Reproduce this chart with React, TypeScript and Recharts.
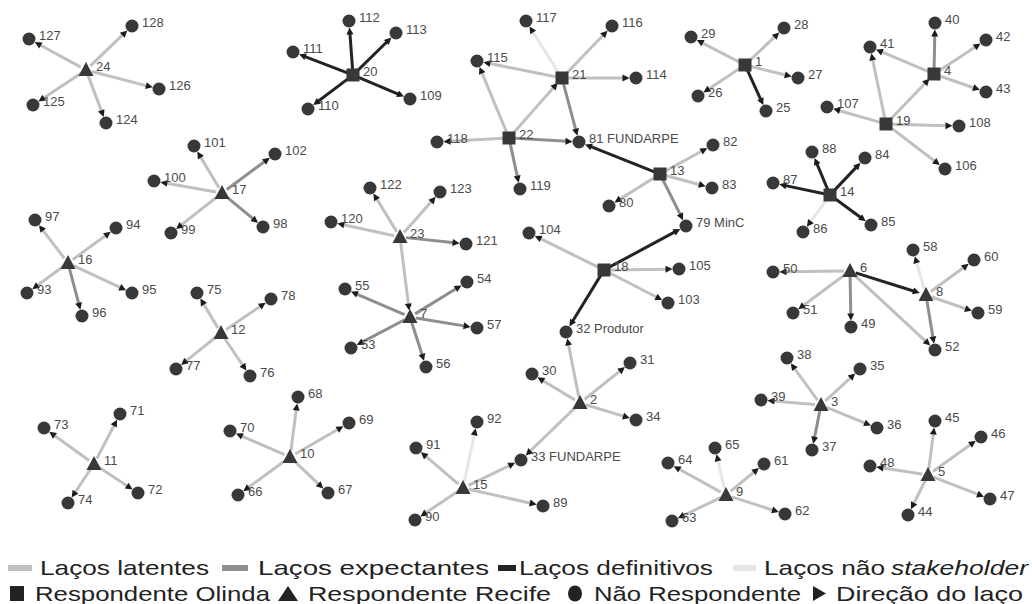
import { ScatterChart, Scatter, XAxis, YAxis, ReferenceLine } from 'recharts'

type Node = { id: number; x: number; y: number; name?: string }

// Respondente Olinda (squares)
const olindaNodes: Node[] = [
  { id: 20, x: 353, y: 75 }, { id: 21, x: 562, y: 78 }, { id: 22, x: 509, y: 138 },
  { id: 13, x: 660, y: 174 }, { id: 18, x: 604, y: 270 }, { id: 1, x: 745, y: 65 },
  { id: 4, x: 934, y: 74 }, { id: 19, x: 886, y: 124 }, { id: 14, x: 830, y: 195 },
]

// Respondente Recife (triangles)
const recifeNodes: Node[] = [
  { id: 24, x: 86, y: 70 }, { id: 17, x: 222, y: 193 }, { id: 16, x: 68, y: 263 },
  { id: 23, x: 400, y: 237 }, { id: 7, x: 410, y: 317 }, { id: 12, x: 221, y: 333 },
  { id: 11, x: 94, y: 464 }, { id: 10, x: 290, y: 457 }, { id: 2, x: 580, y: 403 },
  { id: 15, x: 463, y: 488 }, { id: 6, x: 850, y: 271 }, { id: 8, x: 926, y: 295 },
  { id: 3, x: 821, y: 405 }, { id: 9, x: 726, y: 495 }, { id: 5, x: 928, y: 475 },
]

// Não respondentes (circles)
const otherNodes: Node[] = [
  { id: 128, x: 132, y: 26 }, { id: 127, x: 29, y: 39 }, { id: 126, x: 159, y: 89 },
  { id: 125, x: 33, y: 105 }, { id: 124, x: 106, y: 123 },
  { id: 112, x: 349, y: 21 }, { id: 113, x: 396, y: 33 }, { id: 111, x: 293, y: 52 },
  { id: 110, x: 308, y: 109 }, { id: 109, x: 410, y: 99 },
  { id: 117, x: 526, y: 21 }, { id: 116, x: 612, y: 26 }, { id: 115, x: 477, y: 61 },
  { id: 114, x: 636, y: 78 }, { id: 118, x: 437, y: 142 }, { id: 119, x: 520, y: 189 },
  { id: 81, x: 579, y: 142, name: '81 FUNDARPE' },
  { id: 82, x: 713, y: 145 }, { id: 83, x: 712, y: 188 }, { id: 80, x: 609, y: 206 },
  { id: 79, x: 686, y: 226, name: '79 MinC' },
  { id: 104, x: 529, y: 233 }, { id: 105, x: 679, y: 269 }, { id: 103, x: 668, y: 303 },
  { id: 32, x: 566, y: 332, name: '32 Produtor' },
  { id: 30, x: 532, y: 374 }, { id: 31, x: 630, y: 363 }, { id: 34, x: 636, y: 420 },
  { id: 33, x: 521, y: 460, name: '33 FUNDARPE' },
  { id: 92, x: 477, y: 422 }, { id: 91, x: 416, y: 448 }, { id: 90, x: 415, y: 520 }, { id: 89, x: 543, y: 506 },
  { id: 28, x: 784, y: 28 }, { id: 29, x: 691, y: 37 }, { id: 27, x: 798, y: 78 },
  { id: 26, x: 698, y: 96 }, { id: 25, x: 766, y: 111 },
  { id: 40, x: 935, y: 23 }, { id: 41, x: 870, y: 47 }, { id: 42, x: 986, y: 40 }, { id: 43, x: 986, y: 92 },
  { id: 107, x: 827, y: 107 }, { id: 108, x: 959, y: 126 }, { id: 106, x: 945, y: 169 },
  { id: 88, x: 812, y: 152 }, { id: 84, x: 865, y: 158 }, { id: 87, x: 773, y: 183 },
  { id: 86, x: 803, y: 232 }, { id: 85, x: 871, y: 225 },
  { id: 50, x: 773, y: 272 }, { id: 51, x: 793, y: 313 }, { id: 49, x: 851, y: 327 },
  { id: 52, x: 935, y: 350 }, { id: 58, x: 913, y: 250 }, { id: 60, x: 974, y: 260 }, { id: 59, x: 978, y: 313 },
  { id: 101, x: 194, y: 146 }, { id: 102, x: 275, y: 154 }, { id: 100, x: 154, y: 181 },
  { id: 99, x: 171, y: 233 }, { id: 98, x: 263, y: 227 },
  { id: 97, x: 35, y: 220 }, { id: 94, x: 116, y: 228 }, { id: 93, x: 27, y: 293 },
  { id: 95, x: 132, y: 293 }, { id: 96, x: 82, y: 316 },
  { id: 122, x: 370, y: 188 }, { id: 123, x: 440, y: 192 }, { id: 120, x: 331, y: 222 }, { id: 121, x: 466, y: 244 },
  { id: 55, x: 345, y: 289 }, { id: 54, x: 467, y: 282 }, { id: 57, x: 477, y: 328 },
  { id: 53, x: 351, y: 348 }, { id: 56, x: 426, y: 367 },
  { id: 75, x: 197, y: 293 }, { id: 78, x: 271, y: 299 }, { id: 77, x: 176, y: 369 }, { id: 76, x: 250, y: 376 },
  { id: 73, x: 44, y: 428 }, { id: 71, x: 120, y: 414 }, { id: 74, x: 68, y: 503 }, { id: 72, x: 138, y: 493 },
  { id: 68, x: 298, y: 397 }, { id: 70, x: 230, y: 431 }, { id: 69, x: 349, y: 423 },
  { id: 66, x: 238, y: 495 }, { id: 67, x: 328, y: 493 },
  { id: 38, x: 787, y: 358 }, { id: 35, x: 860, y: 369 }, { id: 39, x: 761, y: 400 },
  { id: 36, x: 877, y: 428 }, { id: 37, x: 812, y: 450 },
  { id: 64, x: 668, y: 463 }, { id: 65, x: 715, y: 448 }, { id: 61, x: 764, y: 464 },
  { id: 63, x: 672, y: 521 }, { id: 62, x: 785, y: 514 },
  { id: 45, x: 935, y: 421 }, { id: 46, x: 981, y: 437 }, { id: 48, x: 870, y: 466 },
  { id: 47, x: 990, y: 499 }, { id: 44, x: 908, y: 515 },
]

// ties: [from, to]
const latentTies: [number, number][] = [
  [24, 128], [24, 127], [24, 126], [24, 125], [24, 124],
  [21, 116], [21, 115], [21, 114], [22, 115], [22, 21], [22, 118],
  [13, 82], [13, 83], [13, 80], [18, 104], [18, 105], [18, 103],
  [2, 32], [2, 30], [2, 31], [2, 34], [2, 33], [15, 33], [15, 91], [15, 90], [15, 89],
  [1, 28], [1, 29], [1, 27], [1, 26], [4, 41], [4, 42], [4, 43],
  [19, 41], [19, 4], [19, 107], [19, 108], [19, 106],
  [6, 50], [6, 51], [6, 52], [8, 60], [8, 59],
  [17, 101], [17, 100], [17, 99], [16, 97], [16, 94], [16, 93], [16, 95],
  [23, 122], [23, 123], [23, 120], [23, 7],
  [12, 75], [12, 78], [12, 77], [12, 76], [11, 73], [11, 71], [11, 74], [11, 72],
  [10, 68], [10, 70], [10, 69], [10, 66], [10, 67],
  [3, 38], [3, 35], [3, 39], [3, 36], [9, 64], [9, 61], [9, 63], [9, 62],
  [5, 45], [5, 46], [5, 48], [5, 47], [5, 44],
]
const expectantTies: [number, number][] = [
  [21, 81], [22, 81], [22, 119], [13, 79], [4, 40], [6, 49], [8, 52],
  [17, 102], [17, 98], [16, 96], [23, 121],
  [7, 55], [7, 54], [7, 57], [7, 53], [7, 56], [3, 37],
]
const definitiveTies: [number, number][] = [
  [20, 112], [20, 113], [20, 111], [20, 110], [20, 109],
  [13, 81], [18, 79], [18, 32], [1, 25],
  [14, 88], [14, 84], [14, 87], [14, 85], [6, 8],
]
const nonStakeholderTies: [number, number][] = [
  [21, 117], [15, 92], [14, 86], [8, 58], [9, 65],
]

const COLORS = {
  latent: '#c0c0c0',
  expectant: '#8e8e8e',
  definitive: '#232323',
  nonStakeholder: '#e6e6e6',
  node: '#383838',
  label: '#4a4a4a',
}

const allNodes = [...olindaNodes, ...recifeNodes, ...otherNodes]
const nodeById = new Map(allNodes.map((n) => [n.id, n]))

const withLabel = (list: Node[]) => list.map((n) => ({ ...n, label: n.name ?? String(n.id) }))

const tieShape = (color: string) => (props: any) => {
  const { x1, y1, x2, y2 } = props
  const dx = x2 - x1
  const dy = y2 - y1
  const len = Math.hypot(dx, dy) || 1
  const ux = dx / len
  const uy = dy / len
  const tipX = x2 - ux * 6.5
  const tipY = y2 - uy * 6.5
  const baseX = tipX - ux * 7
  const baseY = tipY - uy * 7
  const px = -uy
  const py = ux
  return (
    <g>
      <line x1={x1 + ux * 6} y1={y1 + uy * 6} x2={baseX + ux * 2} y2={baseY + uy * 2} stroke={color} strokeWidth={3} />
      <polygon
        points={`${tipX},${tipY} ${baseX + px * 3.5},${baseY + py * 3.5} ${baseX - px * 3.5},${baseY - py * 3.5}`}
        fill="#1c1c1c"
      />
    </g>
  )
}

const SquareNode = (props: any) => {
  const { cx, cy } = props
  return <rect x={cx - 6.5} y={cy - 6.5} width={13} height={13} fill={COLORS.node} />
}

const TriangleNode = (props: any) => {
  const { cx, cy } = props
  return <polygon points={`${cx},${cy - 8} ${cx + 7.5},${cy + 6} ${cx - 7.5},${cy + 6}`} fill={COLORS.node} />
}

const CircleNode = (props: any) => {
  const { cx, cy } = props
  return <circle cx={cx} cy={cy} r={6.5} fill={COLORS.node} />
}

const LabelOnly = (props: any) => {
  const { cx, cy, payload } = props
  return (
    <text x={cx + 10} y={cy - 2} dominantBaseline="middle" fontSize={13} fill={COLORS.label}
      fontFamily="'Liberation Sans', Arial, sans-serif">
      {payload.label}
    </text>
  )
}

const renderTies = (ties: [number, number][], color: string, key: string) =>
  ties.map(([from, to]) => {
    const a = nodeById.get(from)!
    const b = nodeById.get(to)!
    return (
      <ReferenceLine
        key={`${key}-${from}-${to}`}
        segment={[{ x: a.x, y: a.y }, { x: b.x, y: b.y }]}
        ifOverflow="visible"
        zIndex={100}
        shape={tieShape(color)}
      />
    )
  })

const LEGEND_FONT = "'Liberation Sans', Arial, sans-serif"

function NetworkLegend() {
  const t = (x: number, y: number, len: number, s: string, italic = false) => (
    <text x={x} y={y} fontSize={21} fill="#222" fontFamily={LEGEND_FONT} textLength={len}
      lengthAdjust="spacingAndGlyphs" fontStyle={italic ? 'italic' : 'normal'}>
      {s}
    </text>
  )
  const r1 = 575
  const r2 = 601
  return (
    <svg width={1032} height={604} style={{ position: 'absolute', left: 0, top: 0, pointerEvents: 'none' }}>
      <rect x={8} y={565} width={24} height={6} fill={COLORS.latent} />
      {t(40, r1, 169, 'Laços latentes')}
      <rect x={222} y={565} width={26} height={6} fill={COLORS.expectant} />
      {t(258, r1, 231, 'Laços expectantes')}
      <rect x={498} y={565} width={18} height={6} fill={COLORS.definitive} />
      {t(519, r1, 194, 'Laços definitivos')}
      <rect x={733} y={565} width={23} height={6} fill={COLORS.nonStakeholder} />
      {t(764, r1, 121, 'Laços não')}
      {t(891, r1, 137, 'stakeholder', true)}

      <rect x={10} y={586} width={14} height={15} fill="#222" />
      {t(35, r2, 235, 'Respondente Olinda')}
      <polygon points="288,586 298,601 278,601" fill="#222" />
      {t(308, r2, 243, 'Respondente Recife')}
      <ellipse cx={575} cy={593.5} rx={7} ry={8} fill="#222" />
      {t(594, r2, 207, 'Não Respondente')}
      <polygon points="813,586 826,593.5 813,601" fill="#222" />
      {t(836, r2, 187, 'Direção do laço')}
    </svg>
  )
}

export default function App() {
  const labels = withLabel(allNodes)
  return (
    <div style={{ position: 'relative', width: 1032, height: 604, background: '#fff' }}>
      <style>{'body{margin:0}'}</style>
      <ScatterChart width={1032} height={604} margin={{ top: 0, right: 0, bottom: 0, left: 0 }}>
        <XAxis type="number" dataKey="x" domain={[0, 1032]} hide />
        <YAxis type="number" dataKey="y" domain={[0, 604]} reversed hide />
        {renderTies(nonStakeholderTies, COLORS.nonStakeholder, 'n')}
        {renderTies(latentTies, COLORS.latent, 'l')}
        {renderTies(expectantTies, COLORS.expectant, 'e')}
        {renderTies(definitiveTies, COLORS.definitive, 'd')}
        <Scatter data={otherNodes} shape={CircleNode} isAnimationActive={false} zIndex={1000} />
        <Scatter data={recifeNodes} shape={TriangleNode} isAnimationActive={false} zIndex={1000} />
        <Scatter data={olindaNodes} shape={SquareNode} isAnimationActive={false} zIndex={1000} />
        <Scatter data={labels} shape={LabelOnly} isAnimationActive={false} zIndex={2000} />
      </ScatterChart>
      <NetworkLegend />
    </div>
  )
}
